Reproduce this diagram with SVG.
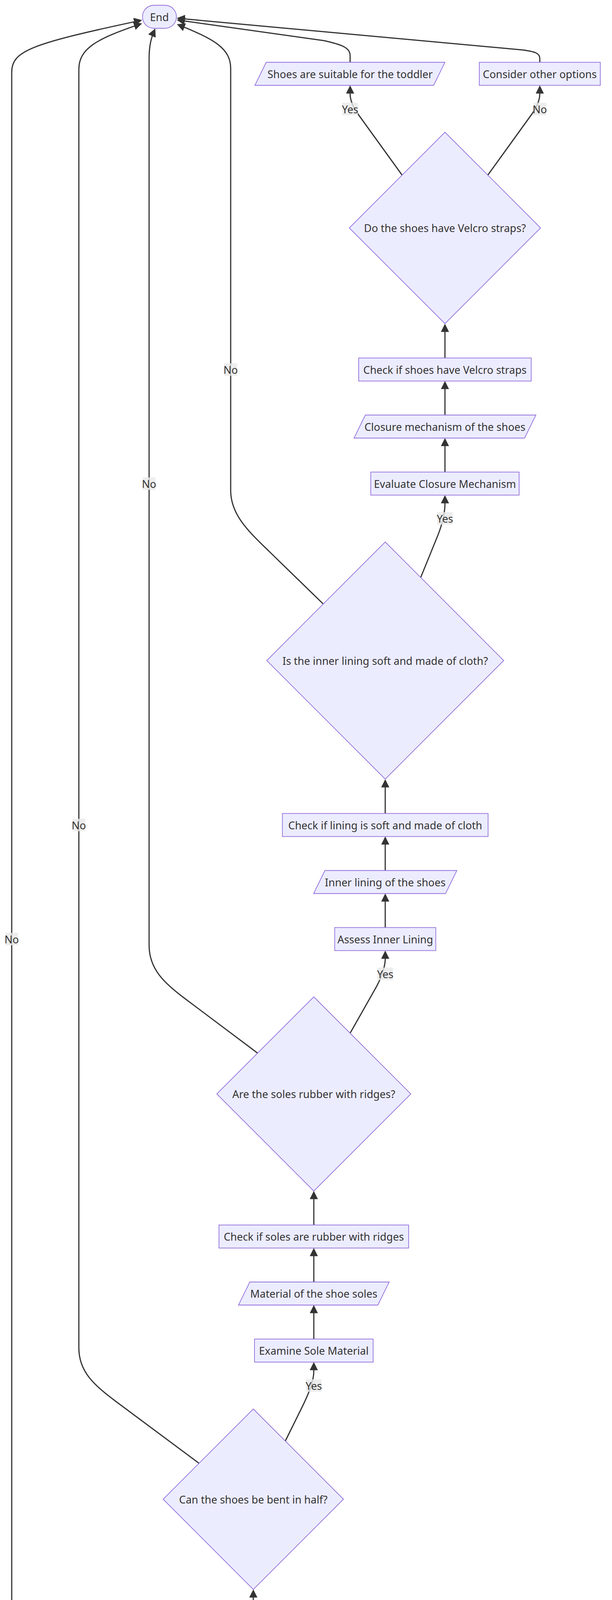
<svg xmlns="http://www.w3.org/2000/svg" width="1568" height="6188" viewBox="0 0 1568 6188">
<style>
.n{fill:#ECECFF;stroke:#9370DB;stroke-width:1.8}
.t{font-family:"Noto Sans","DejaVu Sans",sans-serif;font-size:27px;fill:#333;text-anchor:middle;dominant-baseline:central}
.e{fill:none;stroke:#333;stroke-width:3;marker-end:url(#arr)}
.lb{fill:#e8e8e8;fill-opacity:0.8}
</style>
<defs>
<marker id="arr" viewBox="0 0 10 10" refX="8" refY="5" markerUnits="userSpaceOnUse" markerWidth="21" markerHeight="21" orient="auto"><path d="M0,0 L10,5 L0,10 z" fill="#333"/></marker>
</defs>
<rect width="1568" height="6188" fill="#fff"/>
<g id="connectors">
<path class="e" d="M503,6051 L503,5968"/>
<path class="e" d="M503,5905 L503,5822"/>
<path class="e" d="M503,5759 L503,5676"/>
<path class="e" d="M503,5613 L503,5530"/>
<path class="e" d="M503,5467 L503,5384"/>
<path class="e" d="M649,4449 L649,4365.5"/>
<path class="e" d="M649,4302 L649,4219"/>
<path class="e" d="M649,4156 L649,4073"/>
<path class="e" d="M804,3428 L804,3345"/>
<path class="e" d="M804,3282 L804,3199"/>
<path class="e" d="M804,3136 L804,3053"/>
<path class="e" d="M987,2374.5 L987,2291.5"/>
<path class="e" d="M987,2228.5 L987,2145.5"/>
<path class="e" d="M987,2082.5 L987,1999"/>
<path class="e" d="M1140,1208.5 L1140,1125.5"/>
<path class="e" d="M1140,1062.5 L1140,979.5"/>
<path class="e" d="M1140,916.5 L1140,833"/>
<path class="e" d="M598,4722 L634,4610 C644,4578 649,4550 649,4530 L649,4511.5"/>
<path class="e" d="M731,3689 L776,3598 C792,3565 804,3535 804,3510 L804,3491"/>
<path class="e" d="M897,2645 L965,2525 C980,2497 987,2470 987,2455 L987,2437.7"/>
<path class="e" d="M1078,1478 L1122,1370 C1134,1340 1140,1310 1140,1290 L1140,1271.7"/>
<path class="e" d="M1030,448 L918,293 C905,275 897,258 897,240 L897,222.7"/>
<path class="e" d="M1250,448 L1362,293 C1375,275 1383,258 1383,240 L1383,222.7"/>
<path class="e" d="M1383,159.5 L1383,150 C1383,136 1370,132 1340,128 L457,47"/>
<path class="e" d="M897,159.5 L897,142 C897,122 875,114 830,104 L457,51.5"/>
<path class="e" d="M828,1546 L690,1412 C640,1363 591,1320 591,1255 L591,175 C591,125 550,100 457,63.6"/>
<path class="e" d="M660,2696 L472,2555 C420,2516 382,2480 382,2420 L382,150 C382,115 388,95 396.2,76.8"/>
<path class="e" d="M510,3746 L300,3590 C240,3545 202,3512 202,3450 L202,178 C202,125 245,100 360,61.3"/>
<path class="e" d="M306,4824 L110,4630 C60,4580 30,4545 30,4480 L30,185 C30,130 80,112 360,52.4"/>
</g>
<g id="edge-labels">
<g><rect class="lb" x="877" y="263" width="40" height="32"/><text class="t" x="897" y="279">Yes</text></g>
<g><rect class="lb" x="1366.5" y="263" width="33" height="32"/><text class="t" x="1383" y="279">No</text></g>
<g><rect class="lb" x="1120" y="1311" width="40" height="32"/><text class="t" x="1140" y="1327">Yes</text></g>
<g><rect class="lb" x="967" y="2477" width="40" height="32"/><text class="t" x="987" y="2493">Yes</text></g>
<g><rect class="lb" x="784" y="3531" width="40" height="32"/><text class="t" x="804" y="3547">Yes</text></g>
<g><rect class="lb" x="629" y="4551" width="40" height="32"/><text class="t" x="649" y="4567">Yes</text></g>
<g><rect class="lb" x="574.5" y="930" width="33" height="32"/><text class="t" x="591" y="946">No</text></g>
<g><rect class="lb" x="365.5" y="1222" width="33" height="32"/><text class="t" x="382" y="1238">No</text></g>
<g><rect class="lb" x="185.5" y="2096" width="33" height="32"/><text class="t" x="202" y="2112">No</text></g>
<g><rect class="lb" x="13.5" y="2388" width="33" height="32"/><text class="t" x="30" y="2404">No</text></g>
</g>
<g id="End"><rect class="n" x="365" y="13.5" width="87" height="59" rx="29.5"/><text class="t" x="408.5" y="43">End</text></g>
<g id="ShoesSuitable"><polygon class="n" points="682,159.5 1140,159.5 1111,218.5 653,218.5"/><text class="t" x="897" y="189">Shoes are suitable for the toddler</text></g>
<g id="ConsiderOther"><rect class="n" x="1228" y="159.5" width="310" height="59"/><text class="t" x="1383" y="189">Consider other options</text></g>
<g id="VelcroDecision"><polygon class="n" points="1140,338.5 1385,583.5 1140,828.5 895,583.5"/><text class="t" x="1140" y="583.5">Do the shoes have Velcro straps?</text></g>
<g id="CheckVelcro"><rect class="n" x="919" y="916.5" width="442" height="59"/><text class="t" x="1140" y="946">Check if shoes have Velcro straps</text></g>
<g id="ClosureData"><polygon class="n" points="936,1062.5 1373,1062.5 1344,1121.5 907,1121.5"/><text class="t" x="1140" y="1092">Closure mechanism of the shoes</text></g>
<g id="EvaluateClosure"><rect class="n" x="950" y="1208.5" width="380" height="59"/><text class="t" x="1140" y="1238">Evaluate Closure Mechanism</text></g>
<g id="LiningDecision"><polygon class="n" points="987,1387.5 1290.5,1691 987,1994.5 683.5,1691"/><text class="t" x="987" y="1691">Is the inner lining soft and made of cloth?</text></g>
<g id="CheckLining"><rect class="n" x="723.5" y="2082.5" width="527" height="59"/><text class="t" x="987" y="2112">Check if lining is soft and made of cloth</text></g>
<g id="LiningData"><polygon class="n" points="832.5,2228.5 1170.5,2228.5 1141.5,2287.5 803.5,2287.5"/><text class="t" x="987" y="2258">Inner lining of the shoes</text></g>
<g id="AssessLining"><rect class="n" x="857.5" y="2374.5" width="259" height="59"/><text class="t" x="987" y="2404">Assess Inner Lining</text></g>
<g id="SolesDecision"><polygon class="n" points="804,2552 1052.5,2800.5 804,3049 555.5,2800.5"/><text class="t" x="804" y="2800.5">Are the soles rubber with ridges?</text></g>
<g id="CheckSoles"><rect class="n" x="561" y="3136" width="486" height="59"/><text class="t" x="804" y="3165.5">Check if soles are rubber with ridges</text></g>
<g id="SoleMaterialData"><polygon class="n" points="640,3282 997,3282 968,3341 611,3341"/><text class="t" x="804" y="3311.5">Material of the shoe soles</text></g>
<g id="ExamineSole"><rect class="n" x="652" y="3428" width="304" height="59"/><text class="t" x="804" y="3457.5">Examine Sole Material</text></g>
<g id="BendDecision"><polygon class="n" points="649,3607 880,3838 649,4069 418,3838"/><text class="t" x="649" y="3838">Can the shoes be bent in half?</text></g>
<g id="TestBend"><rect class="n" x="436" y="4156" width="426" height="59"/><text class="t" x="649" y="4185.5">Test if shoes can be bent in half</text></g>
<g id="FlexData"><polygon class="n" points="474,4302 853,4302 824,4361 445,4361"/><text class="t" x="649" y="4331.5">Flexibility of the shoe soles</text></g>
<g id="CheckFlex"><rect class="n" x="501.5" y="4448.5" width="295" height="59"/><text class="t" x="649" y="4478">Check Sole Flexibility</text></g>
<g id="QualityDecision"><polygon class="n" points="503,4627 879.5,5003.5 503,5380 126.5,5003.5"/><text class="t" x="503" y="5003.5">Are the shoes made of quality, lightweight materials?</text></g>
<g id="SuitableData"><polygon class="n" points="278,5467 757,5467 728,5526 249,5526"/><text class="t" x="503" y="5496.5">Materials suitable for toddler's feet</text></g>
<g id="EnsureMaterials"><rect class="n" x="210" y="5613" width="586" height="59"/><text class="t" x="503" y="5642.5">Ensure materials are breathable and flexible</text></g>
<g id="MaterialsData"><polygon class="n" points="362,5759 673,5759 644,5818 333,5818"/><text class="t" x="503" y="5788.5">Materials of the shoes</text></g>
<g id="IdentifyMaterial"><rect class="n" x="352" y="5905" width="302" height="59"/><text class="t" x="503" y="5934.5">Identify Shoe Material</text></g>
<g id="Start"><rect class="n" x="452" y="6051" width="102" height="59" rx="29.5"/><text class="t" x="503" y="6080.5">Start</text></g>
</svg>
